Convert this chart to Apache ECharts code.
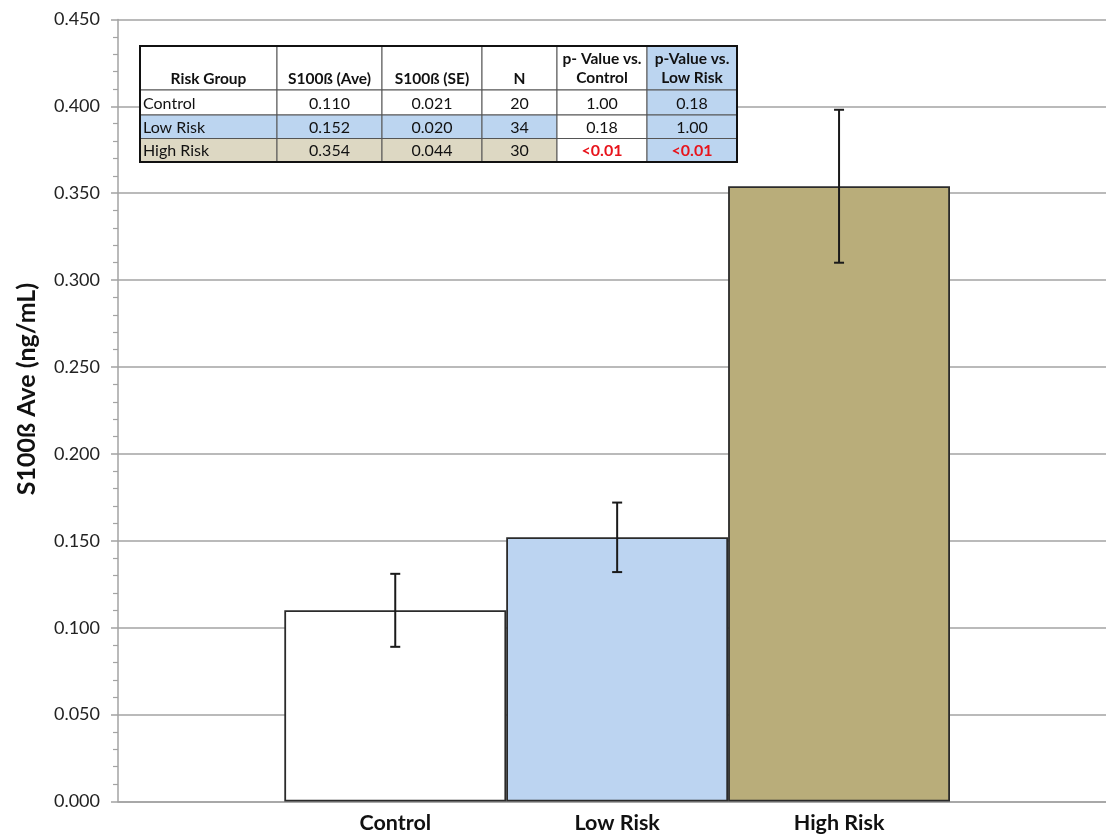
<!DOCTYPE html>
<html><head><meta charset="utf-8">
<script src="https://cdn.jsdelivr.net/npm/echarts@6/dist/echarts.min.js"></script>
<style>html,body{margin:0;padding:0;background:#fff}#c{width:1106px;height:837px}</style>
</head><body><div id="c"></div>
<script>
// ---- data ----
const categories = ['Control', 'Low Risk', 'High Risk'];
const aveValues = [0.110, 0.152, 0.354];
const seValues = [0.021, 0.020, 0.044];
const nValues = [20, 34, 30];
const pVsControl = ['1.00', '0.18', '<0.01'];
const pVsLowRisk = ['0.18', '1.00', '<0.01'];
const tableHeaders = [['Risk Group'], ['S100ß (Ave)'], ['S100ß (SE)'], ['N'], ['p- Value vs.', 'Control'], ['p-Value vs.', 'Low Risk']];
const yAxisTitle = 'S100ß Ave (ng/mL)';
const yMin = 0, yMax = 0.45, yStep = 0.05;

// ---- style ----
const FONT = 'Lato, "Open Sans", sans-serif';
const barColors = ['#ffffff', '#bcd4f1', '#b9ad7a'];
const tblBlue = '#bcd5f0';
const tblKhaki = '#ddd8c3';
const gridColor = '#a3a3a3';

const chart = echarts.init(document.getElementById('c'), null, {renderer: 'canvas'});

// table geometry
const colX = [140, 277, 382, 482, 557, 647, 737];
const rowY = [46, 90, 115, 138.5, 162];
const rowFill = [
  ['#fff', '#fff', '#fff', '#fff', '#fff', tblBlue],
  [tblBlue, tblBlue, tblBlue, tblBlue, '#fff', tblBlue],
  [tblKhaki, tblKhaki, tblKhaki, tblKhaki, '#fff', tblBlue]
];
const headerFill = ['#fff', '#fff', '#fff', '#fff', '#fff', tblBlue];

const graphics = [];
// header cells
for (let c = 0; c < 6; c++) {
  graphics.push({type: 'rect', z: 100, shape: {x: colX[c], y: rowY[0], width: colX[c + 1] - colX[c], height: rowY[1] - rowY[0]},
    style: {fill: headerFill[c], stroke: '#555', lineWidth: 1}});
  const lines = tableHeaders[c];
  const cx = (colX[c] + colX[c + 1]) / 2;
  lines.forEach((t, k) => {
    const y = lines.length === 1 ? 79 : (k === 0 ? 59 : 78);
    graphics.push({type: 'text', z: 102, x: cx, y: y,
      style: {text: t, font: 'bold 15.5px ' + FONT, fill: '#111', textAlign: 'center', textVerticalAlign: 'middle'}});
  });
}
// data rows
for (let r = 0; r < 3; r++) {
  const cells = [categories[r], aveValues[r].toFixed(3), seValues[r].toFixed(3), String(nValues[r]), pVsControl[r], pVsLowRisk[r]];
  const cy = (rowY[r + 1] + rowY[r + 2]) / 2;
  for (let c = 0; c < 6; c++) {
    graphics.push({type: 'rect', z: 100, shape: {x: colX[c], y: rowY[r + 1], width: colX[c + 1] - colX[c], height: rowY[r + 2] - rowY[r + 1]},
      style: {fill: rowFill[r][c], stroke: '#555', lineWidth: 1}});
    const isRed = cells[c].indexOf('<') === 0;
    const left = c === 0;
    graphics.push({type: 'text', z: 102, x: left ? colX[c] + 3 : (colX[c] + colX[c + 1]) / 2, y: cy + 1,
      style: {text: cells[c], font: (isRed ? 'bold ' : '') + '16px ' + FONT, fill: isRed ? '#e8141c' : '#111',
        textAlign: left ? 'left' : 'center', textVerticalAlign: 'middle'}});
  }
}
// outer border
graphics.push({type: 'rect', z: 103, shape: {x: colX[0], y: rowY[0], width: colX[6] - colX[0], height: rowY[4] - rowY[0]},
  style: {fill: 'none', stroke: '#111', lineWidth: 2}});
// y-axis title
graphics.push({type: 'text', z: 50, x: 27, y: 389, rotation: Math.PI / 2,
  style: {text: yAxisTitle, font: 'bold 25px ' + FONT, fill: '#111', textAlign: 'center', textVerticalAlign: 'middle'}});

const gridTop = 19.4, gridBottom = 35.5;

const option = {
  animation: false,
  backgroundColor: '#fff',
  grid: [
    {left: 118, right: 0, top: gridTop, bottom: gridBottom},
    {left: 284.3, right: 156, top: gridTop, bottom: gridBottom}
  ],
  xAxis: [
    {type: 'value', gridIndex: 0, min: 0, max: 1, show: true,
      axisLine: {show: true, lineStyle: {color: gridColor, width: 1.5}},
      axisTick: {show: false}, axisLabel: {show: false}, splitLine: {show: false}},
    {type: 'category', gridIndex: 1, data: categories,
      axisLine: {show: false}, axisTick: {show: false},
      axisLabel: {margin: 11, fontFamily: FONT, fontSize: 21.5, fontWeight: 'bold', color: '#111'}}
  ],
  yAxis: [
    {type: 'value', gridIndex: 0, min: yMin, max: yMax, interval: yStep,
      axisLine: {show: true, lineStyle: {color: gridColor, width: 1.5}},
      axisTick: {show: true, length: 7, lineStyle: {color: gridColor, width: 1.5}},
      minorTick: {show: true, splitNumber: 5, length: 5, lineStyle: {color: gridColor, width: 1.2}},
      axisLabel: {margin: 18, fontFamily: FONT, fontSize: 18, color: '#222', formatter: v => v.toFixed(3)},
      splitLine: {show: true, lineStyle: {color: gridColor, width: 1.5}}},
    {type: 'value', gridIndex: 1, min: yMin, max: yMax, interval: yStep, show: false, splitLine: {show: false}}
  ],
  series: [
    {type: 'bar', xAxisIndex: 1, yAxisIndex: 1, barWidth: '100%', barGap: '0%', z: 5,
      data: aveValues.map((v, i) => ({value: v, itemStyle: {color: barColors[i], borderColor: '#2b2b2b', borderWidth: 1.8}}))},
    {type: 'custom', xAxisIndex: 1, yAxisIndex: 1, z: 10,
      data: aveValues.map((v, i) => [i, v - seValues[i], v + seValues[i]]),
      renderItem: function (params, api) {
        const lo = api.coord([api.value(0), api.value(1)]);
        const hi = api.coord([api.value(0), api.value(2)]);
        const x = lo[0], hw = 5;
        const st = {stroke: '#1a1a1a', lineWidth: 2};
        return {type: 'group', children: [
          {type: 'line', shape: {x1: x, y1: lo[1], x2: x, y2: hi[1]}, style: st},
          {type: 'line', shape: {x1: x - hw, y1: lo[1], x2: x + hw, y2: lo[1]}, style: st},
          {type: 'line', shape: {x1: x - hw, y1: hi[1], x2: x + hw, y2: hi[1]}, style: st}
        ]};
      }}
  ],
  graphic: graphics
};
chart.setOption(option);
</script></body></html>
